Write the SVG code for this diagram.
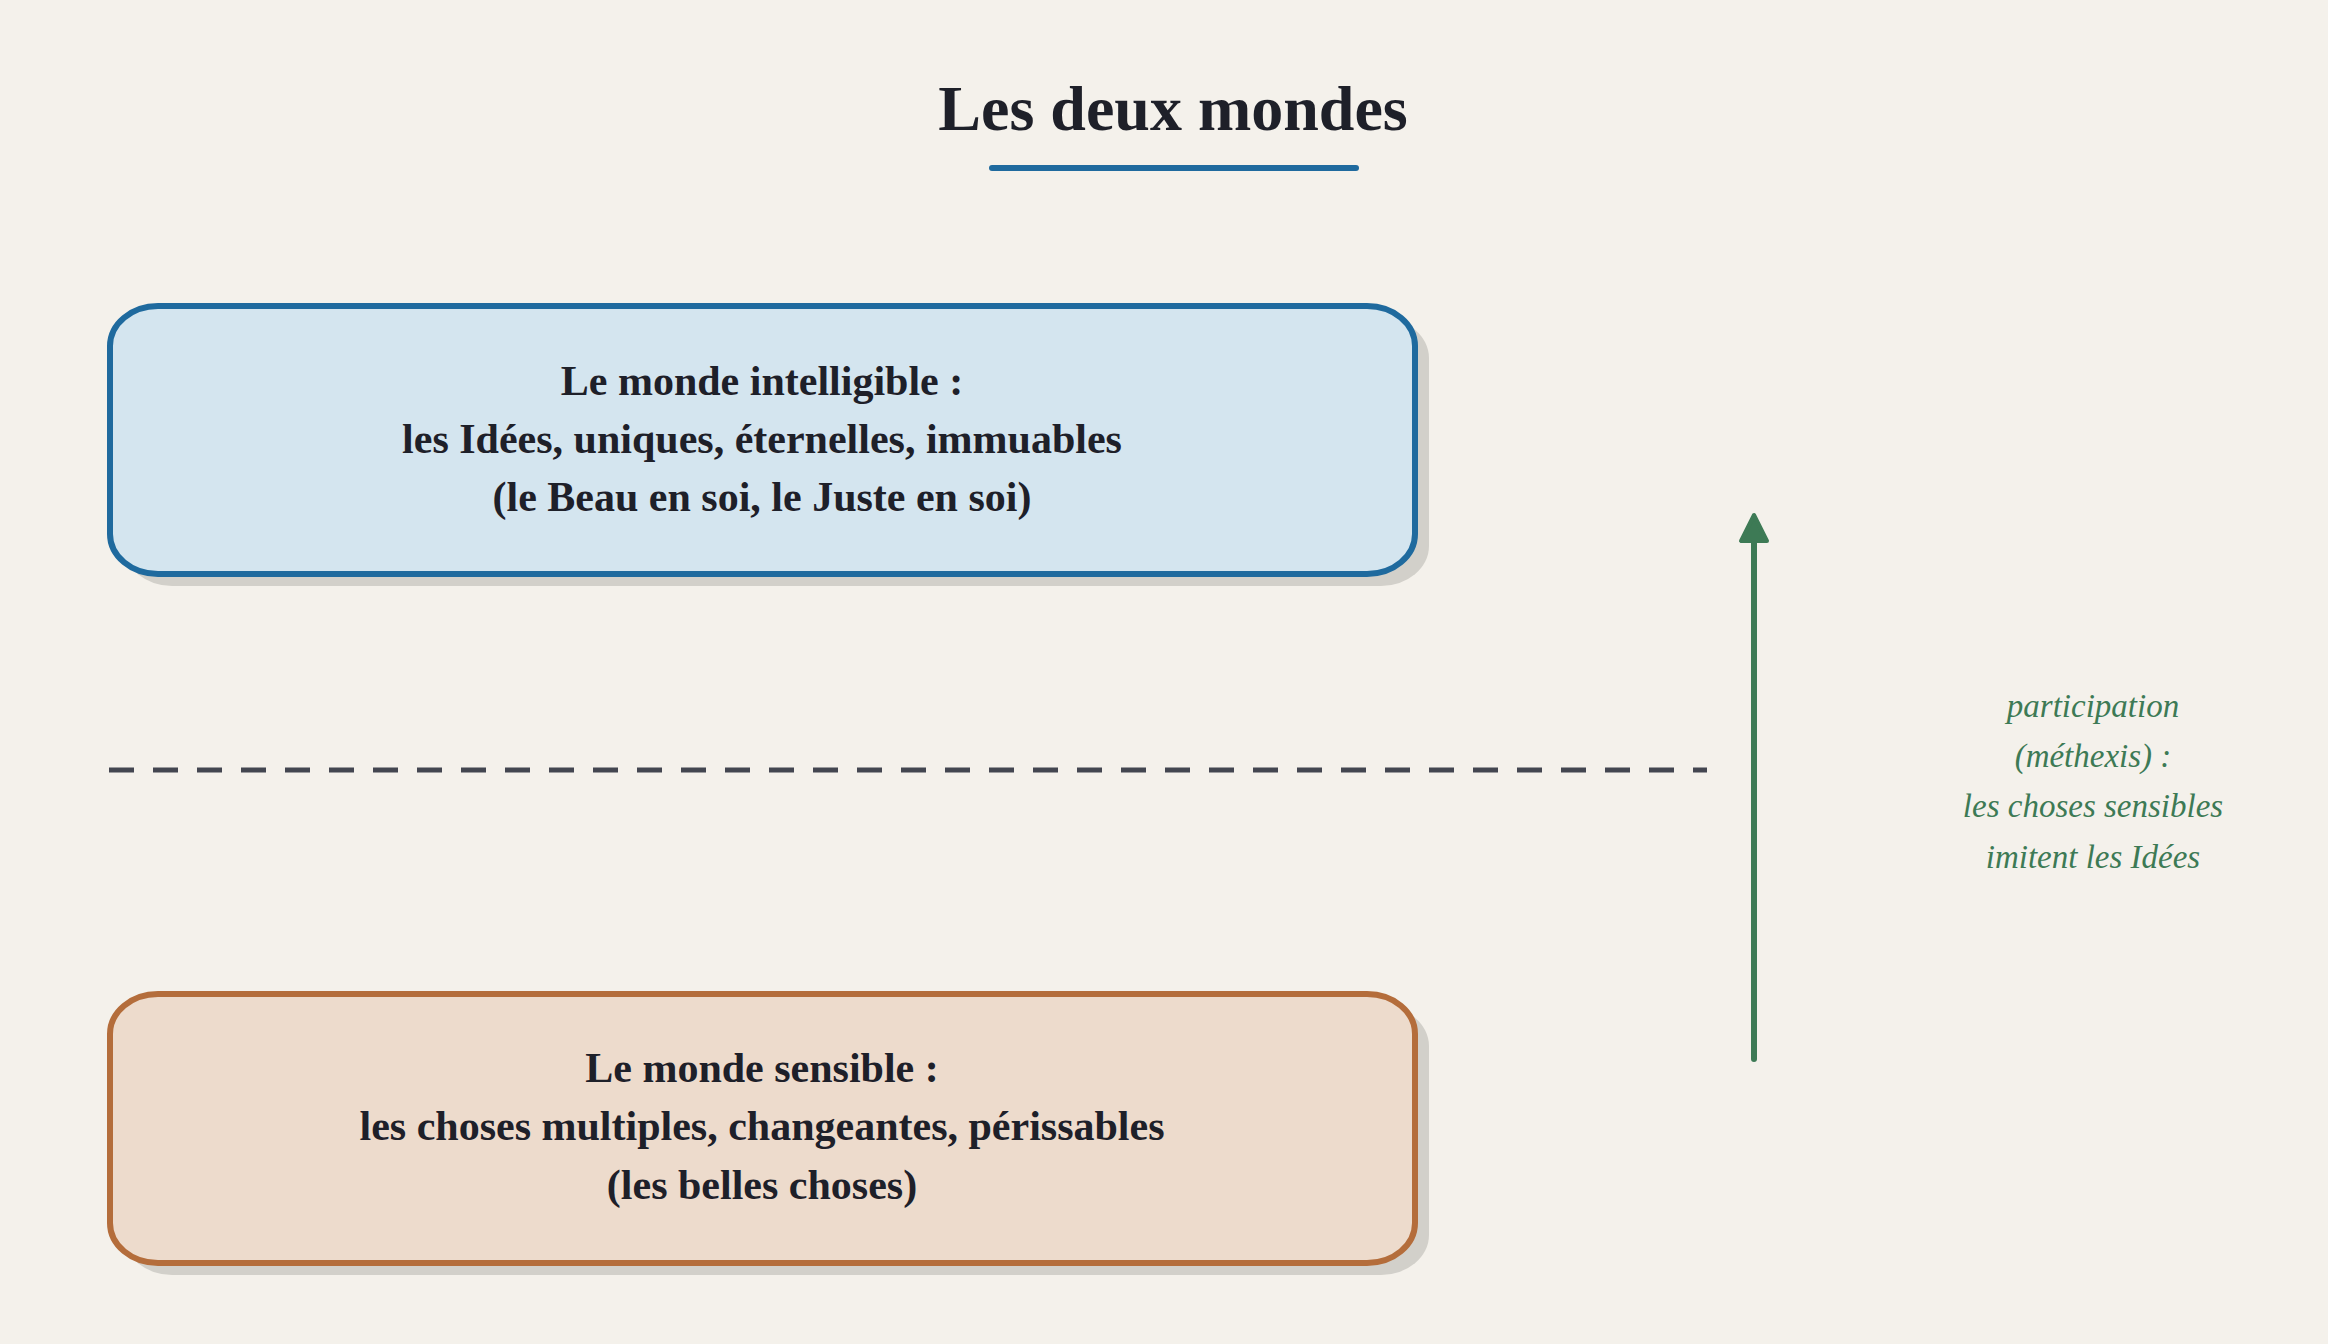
<svg xmlns="http://www.w3.org/2000/svg" width="2328" height="1344" viewBox="0 0 2328 1344">
<style>
.bg{fill:#f4f1eb}
.title{font-family:"Liberation Serif",serif;font-weight:bold;font-size:64px;fill:#1e2029;text-anchor:middle}
.shadow{fill:#d2d0ca}
.box-top{fill:#d4e5ef;stroke:#1f6a9e;stroke-width:6}
.box-bot{fill:#eddbcc;stroke:#b46d3b;stroke-width:6}
.lbl{font-family:"Liberation Serif",serif;font-weight:bold;font-size:42px;fill:#1e2029;text-anchor:middle}
.note{font-family:"Liberation Serif",serif;font-style:italic;font-size:33px;fill:#3d7a55;text-anchor:middle}
.dash{stroke:#434650;stroke-width:5;stroke-dasharray:25 19;fill:none}
.arrow{stroke:#3d7a55;stroke-width:6;stroke-linecap:round;fill:none}
</style>
<defs>
<marker id="ah" markerUnits="userSpaceOnUse" markerWidth="40" markerHeight="40" refX="20" refY="20" orient="auto" viewBox="0 0 40 40">
<polygon points="33,20 7,7 7,33" fill="#3d7a55" stroke="#3d7a55" stroke-width="4" stroke-linejoin="round"/>
</marker>
</defs>
<rect class="bg" x="0" y="0" width="2328" height="1344"/>
<g id="title">
<text class="title" x="1173" y="130">Les deux mondes</text>
<line x1="992" y1="168" x2="1356" y2="168" stroke="#1f6a9e" stroke-width="6" stroke-linecap="round"/>
</g>
<g id="intelligible">
<rect class="shadow" x="124" y="318" width="1305" height="268" rx="48" ry="40"/>
<rect class="box-top" x="110" y="306" width="1305" height="268" rx="48" ry="40"/>
<text class="lbl" x="762" y="395">Le monde intelligible :</text>
<text class="lbl" x="762" y="453">les Idées, uniques, éternelles, immuables</text>
<text class="lbl" x="762" y="511">(le Beau en soi, le Juste en soi)</text>
</g>
<g id="sensible">
<rect class="shadow" x="124" y="1006" width="1305" height="269" rx="48" ry="40"/>
<rect class="box-bot" x="110" y="994" width="1305" height="269" rx="48" ry="40"/>
<text class="lbl" x="762" y="1082">Le monde sensible :</text>
<text class="lbl" x="762" y="1140">les choses multiples, changeantes, périssables</text>
<text class="lbl" x="762" y="1199">(les belles choses)</text>
</g>
<g id="separator">
<line class="dash" x1="109" y1="770" x2="1707" y2="770"/>
</g>
<g id="connectors">
<line class="arrow" x1="1754" y1="1059" x2="1754" y2="528" marker-end="url(#ah)"/>
</g>
<g id="participation-note">
<text class="note" x="2093" y="717">participation</text>
<text class="note" x="2093" y="767">(méthexis) :</text>
<text class="note" x="2093" y="817">les choses sensibles</text>
<text class="note" x="2093" y="868">imitent les Idées</text>
</g>
</svg>
